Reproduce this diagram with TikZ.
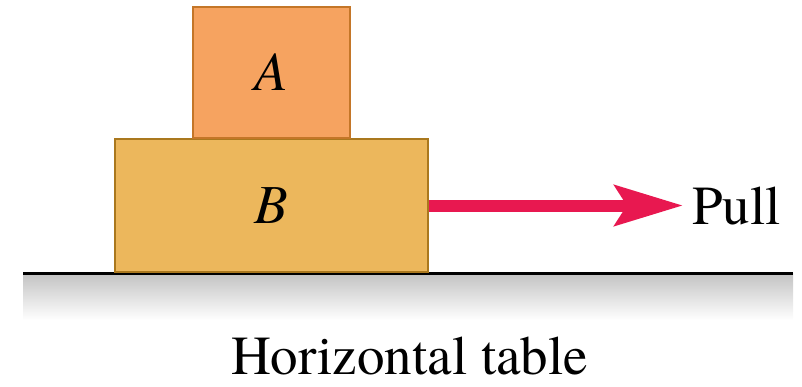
\documentclass[tikz,border=0pt]{standalone}
\usepackage{fontspec}
\setmainfont{texgyretermes-regular.otf}[ItalicFont=texgyretermes-italic.otf]
\usetikzlibrary{arrows.meta}
\usetikzlibrary{calc}
\newcommand{\labelfont}{\fontsize{55}{60}\selectfont}
\definecolor{fillA}{RGB}{246,163,96}
\definecolor{edgeA}{RGB}{196,118,40}
\definecolor{fillB}{RGB}{236,183,92}
\definecolor{edgeB}{RGB}{170,120,30}
\definecolor{pullred}{RGB}{232,24,80}
\tikzset{block/.style={fill=#1,line width=2pt,inner sep=0pt,font=\labelfont\itshape},block/.default=fillB}
\tikzset{pull arrow/.style={color=#1,line width=12pt,-{Stealth[length=68pt,width=40pt,inset=12pt]}},pull arrow/.default=pullred}
\tikzset{tabletop/.style={color=black,line width=3pt}}

\begin{document}
\begin{tikzpicture}[x=1pt,y=1pt]

	\useasboundingbox (0,0) rectangle (802,386);

	% O tampo da mesa e a sombra
	\coordinate (table left)  at (23,113);
	\coordinate (table right) at (793,113);
	\shade [top color=black!24, bottom color=white]
		(table left) rectangle ($(table right) + (0,-47)$);
	\draw [tabletop] (table left) -- (table right);

	% Bloco B
	\node [block=fillB, draw=edgeB, minimum width=313pt, minimum height=133pt]
		(B) at (271.5,180.5) {B};

	% Bloco A sobre B
	\node [block=fillA, draw=edgeA, minimum width=157pt, minimum height=131pt]
		(A) at (271.5,313.5) {A};

	% Flecha e rotulo "Pull"
	\node [anchor=west, inner xsep=9pt, inner ysep=0pt, font=\labelfont]
		(pull) at ($(B.east) + (254,0)$) {Pull};
	\draw [pull arrow] (B.east) -- (pull.west);

	% Rotulo da mesa
	\node [anchor=base, inner sep=1pt, font=\labelfont] (table label) at (409.5,12) {Horizontal table};

\end{tikzpicture}
\end{document}
